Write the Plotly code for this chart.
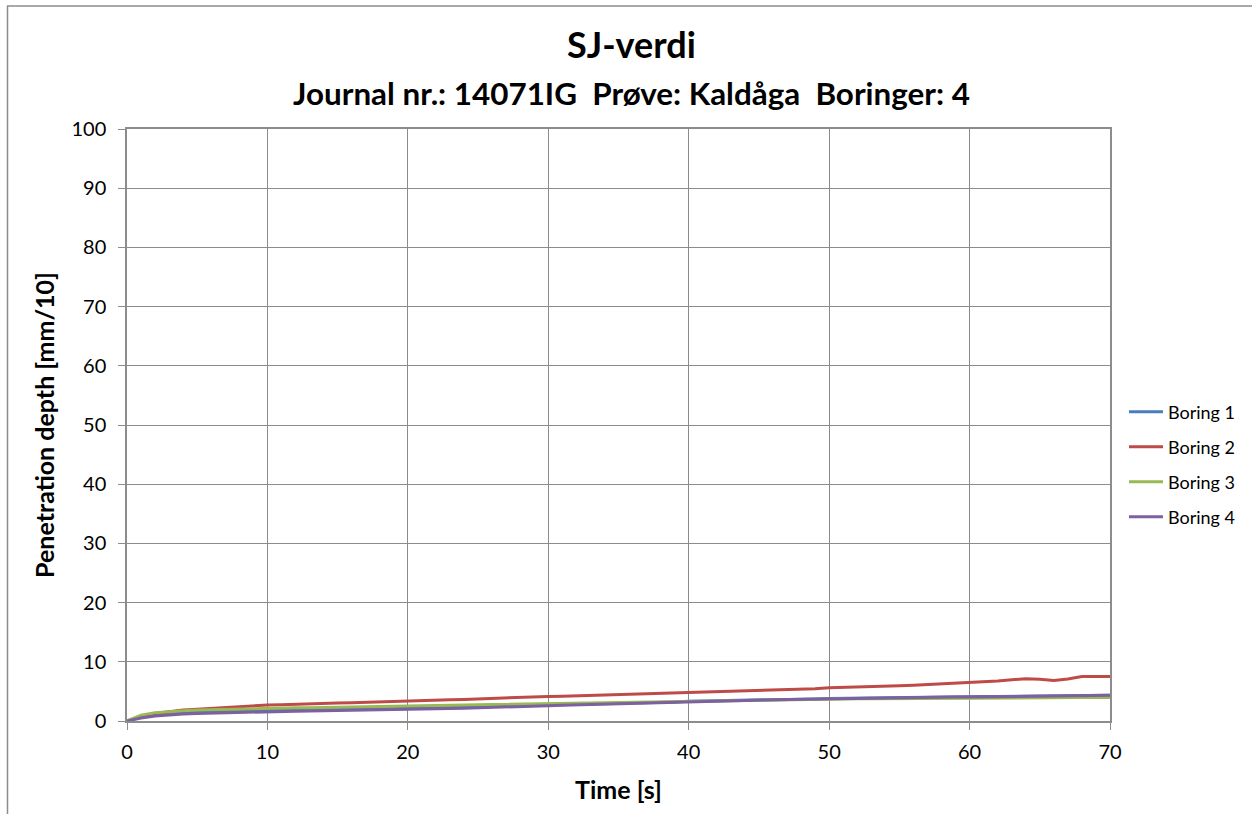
import plotly.graph_objects as go

time_s = list(range(0, 71))

boring_1 = [0.0, 0.7, 1.05, 1.25, 1.4, 1.5, 1.58, 1.65, 1.7, 1.75, 1.8,
            1.85, 1.9, 1.92, 1.97, 2.0, 2.03, 2.07, 2.1, 2.13, 2.2,
            2.22, 2.27, 2.3, 2.35, 2.4, 2.45, 2.5, 2.55, 2.6, 2.7,
            2.72, 2.8, 2.85, 2.9, 2.95, 3.0, 3.05, 3.15, 3.2, 3.35,
            3.38, 3.42, 3.45, 3.5, 3.55, 3.58, 3.62, 3.68, 3.72, 3.78,
            3.8, 3.85, 3.88, 3.9, 3.95, 3.98, 4.0, 4.05, 4.08, 4.1,
            4.12, 4.15, 4.18, 4.2, 4.22, 4.25, 4.3, 4.32, 4.35, 4.35]

boring_2 = [0.0, 0.8, 1.25, 1.6, 1.85, 2.0, 2.15, 2.3, 2.42, 2.55, 2.7,
            2.75, 2.85, 2.9, 3.0, 3.05, 3.1, 3.15, 3.25, 3.3, 3.4,
            3.45, 3.5, 3.58, 3.65, 3.75, 3.8, 3.88, 3.95, 4.05, 4.15,
            4.18, 4.25, 4.3, 4.35, 4.4, 4.45, 4.52, 4.58, 4.65, 4.72,
            4.78, 4.85, 4.92, 5.0, 5.08, 5.15, 5.25, 5.35, 5.45, 5.6,
            5.65, 5.75, 5.8, 5.9, 5.95, 6.05, 6.15, 6.25, 6.4, 6.55,
            6.65, 6.75, 6.95, 7.15, 7.05, 6.85, 7.1, 7.5, 7.5, 7.5]

boring_3 = [0.0, 1.0, 1.4, 1.6, 1.75, 1.85, 1.92, 1.98, 2.03, 2.08, 2.12,
            2.17, 2.22, 2.25, 2.3, 2.33, 2.37, 2.42, 2.45, 2.5, 2.55,
            2.58, 2.62, 2.66, 2.7, 2.74, 2.78, 2.82, 2.86, 2.9, 2.95,
            2.98, 3.02, 3.05, 3.1, 3.13, 3.17, 3.2, 3.25, 3.3, 3.4,
            3.42, 3.45, 3.48, 3.52, 3.55, 3.58, 3.6, 3.63, 3.66, 3.7,
            3.72, 3.74, 3.76, 3.78, 3.8, 3.82, 3.83, 3.85, 3.86, 3.85,
            3.87, 3.88, 3.9, 3.91, 3.92, 3.93, 3.94, 3.95, 3.95, 3.95]

boring_4 = [0.0, 0.5, 0.85, 1.05, 1.18, 1.28, 1.35, 1.42, 1.48, 1.53, 1.55,
            1.6, 1.65, 1.7, 1.73, 1.78, 1.82, 1.86, 1.9, 1.93, 1.97,
            2.02, 2.07, 2.12, 2.17, 2.22, 2.28, 2.35, 2.42, 2.5, 2.58,
            2.65, 2.72, 2.8, 2.88, 2.95, 3.02, 3.1, 3.15, 3.22, 3.3,
            3.35, 3.4, 3.45, 3.5, 3.55, 3.6, 3.64, 3.68, 3.73, 3.78,
            3.82, 3.85, 3.88, 3.92, 3.95, 3.98, 4.0, 4.02, 4.04, 4.05,
            4.08, 4.12, 4.15, 4.18, 4.22, 4.25, 4.28, 4.3, 4.32, 4.33]

series_names = ["Boring 1", "Boring 2", "Boring 3", "Boring 4"]
series_values = [boring_1, boring_2, boring_3, boring_4]
series_colors = ["#4A7EBB", "#BE4B48", "#98B954", "#7D60A0"]

x_ticks = [0, 10, 20, 30, 40, 50, 60, 70]
y_ticks = [0, 10, 20, 30, 40, 50, 60, 70, 80, 90, 100]

FONT = "Lato"

W, H = 1252, 814
L, R, T, B = 127, 142, 129, 93
pw, ph = W - L - R, H - T - B

def px_x(p):
    return (p - L) / pw

def px_y(p):
    return (H - B - p) / ph

legend_ids = ["legend", "legend2", "legend3", "legend4"]
legend_rows = [412, 447, 482, 517]

fig = go.Figure()
for name, vals, col, lid in zip(series_names, series_values, series_colors, legend_ids):
    fig.add_trace(go.Scatter(x=time_s, y=vals, mode="lines", name=name,
                             legend=lid, line=dict(color=col, width=3)))

grid = "#8C8C8C"

legend_layout = {}
for lid, row in zip(legend_ids, legend_rows):
    legend_layout[lid] = dict(x=px_x(1124), y=px_y(row), xanchor="left",
                              yanchor="middle", font=dict(size=18, family=FONT),
                              itemwidth=34, bgcolor="rgba(0,0,0,0)",
                              borderwidth=0)

fig.update_layout(
    width=W, height=H,
    margin=dict(l=L, r=R, t=T, b=B, autoexpand=False),
    paper_bgcolor="white", plot_bgcolor="white",
    font=dict(family=FONT, color="black"),
    showlegend=True,
    xaxis=dict(range=[0, 70], tickvals=x_ticks, showgrid=True, gridcolor=grid,
               gridwidth=1, showline=True, linecolor=grid, linewidth=1.5,
               mirror=True, ticks="outside", ticklen=7, tickcolor=grid,
               ticklabelstandoff=5,
               tickfont=dict(size=20, family=FONT), zeroline=False,
               title=dict(text="<b>Time [s]</b>", font=dict(size=25, family=FONT),
                          standoff=20)),
    yaxis=dict(range=[0, 100], tickvals=y_ticks, showgrid=True, gridcolor=grid,
               gridwidth=1, showline=True, linecolor=grid, linewidth=1.5,
               mirror=True, ticks="outside", ticklen=7, tickcolor=grid,
               ticklabelstandoff=8,
               tickfont=dict(size=20, family=FONT), zeroline=False,
               title=dict(text="<b>Penetration depth [mm/10]</b>",
                          font=dict(size=25, family=FONT), standoff=10)),
    annotations=[
        dict(text="<b>SJ-verdi</b>", x=px_x(631), y=px_y(44), xref="paper",
             yref="paper", showarrow=False, font=dict(size=36, family=FONT),
             xanchor="center", yanchor="middle"),
        dict(text="<b>Journal nr.: 14071IG  Prøve: Kaldåga  Boringer: 4</b>",
             x=px_x(631), y=px_y(93), xref="paper", yref="paper",
             showarrow=False, font=dict(size=31.4, family=FONT),
             xanchor="center", yanchor="middle"),
    ],
    shapes=[
        dict(type="line", xref="paper", yref="paper", x0=px_x(7.5), x1=px_x(7.5),
             y0=px_y(6), y1=px_y(814), line=dict(color="#8C8C8C", width=1.5)),
        dict(type="line", xref="paper", yref="paper", x0=px_x(7), x1=px_x(1252),
             y0=px_y(6), y1=px_y(6), line=dict(color="#8C8C8C", width=1.5)),
    ],
    **legend_layout,
)

fig.write_html("out.html", config={"displayModeBar": False},
               post_script="document.body.style.margin='0';document.body.style.overflow='hidden';")
